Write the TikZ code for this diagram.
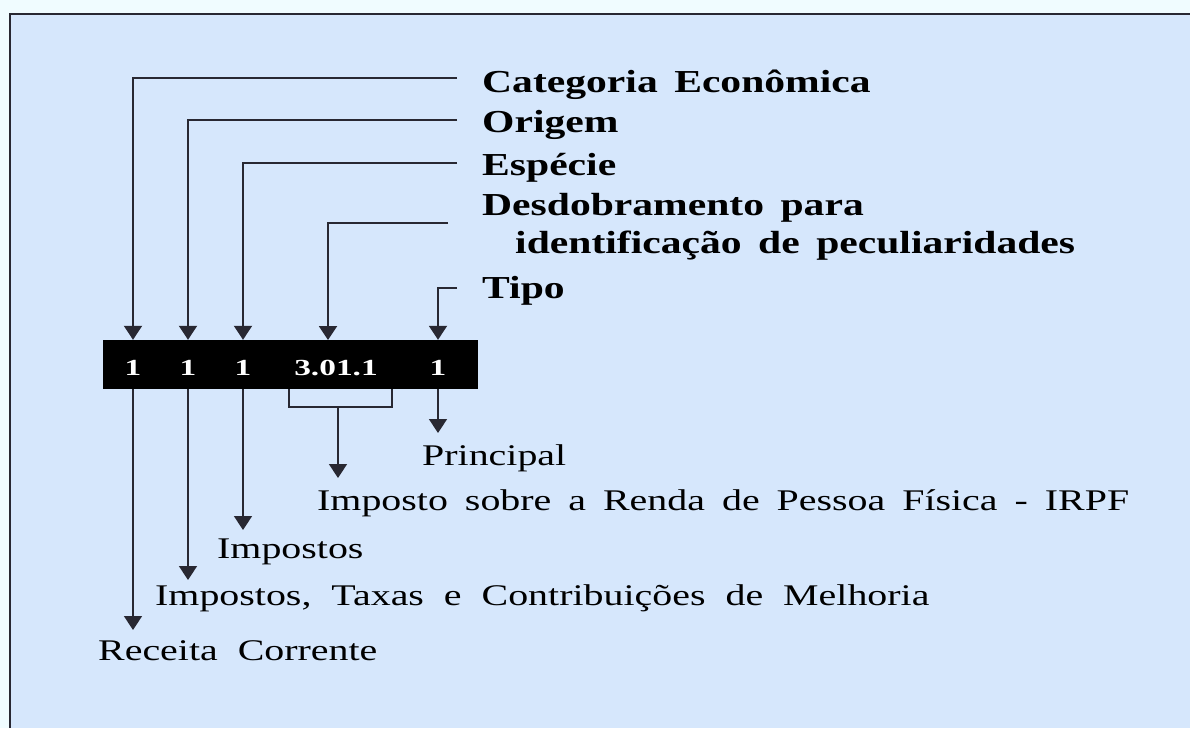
\documentclass[tikz,border=0pt]{standalone}
\usepackage{fontspec}
\setmainfont[FakeStretch=1.3]{Liberation Serif}
\newfontfamily\resfont[FakeStretch=1.33]{Liberation Serif}
\newfontfamily\digfont[FakeStretch=1.45]{Liberation Serif}
\newcommand\labspacing{\spaceskip=16.5pt plus 2pt minus 2pt\relax}
\newcommand\resspacing{\spaceskip=20pt plus 2pt minus 2pt\relax}
\newcommand\resnspacing{\spaceskip=17pt plus 2pt minus 2pt\relax}
\usetikzlibrary{arrows.meta}
\definecolor{outerbg}{RGB}{240,252,255}
\definecolor{innerbg}{RGB}{214,231,252}
\definecolor{linec}{RGB}{40,40,50}
\begin{document}
\begin{tikzpicture}[x=1pt,y=-1pt,
  lab/.style={anchor=base west,inner sep=0pt,font=\fontsize{32}{36}\selectfont\bfseries,execute at begin node=\labspacing},
  res/.style={anchor=base west,inner sep=0pt,font=\resfont\fontsize{30}{34}\selectfont,execute at begin node=\resspacing},
  resn/.style={anchor=base west,inner sep=0pt,font=\resfont\fontsize{30}{34}\selectfont,execute at begin node=\resnspacing},
  dig/.style={anchor=base,inner sep=0pt,text=white,font=\digfont\fontsize{23}{26}\selectfont\bfseries},
  arr/.style={draw=linec,line width=2pt,-{Triangle[width=18pt,length=14pt]}},
  arrb/.style={draw=linec,line width=1.6pt,-{Triangle[width=18pt,length=14pt]}},
  thin/.style={draw=linec,line width=1.2pt}]
\useasboundingbox (0,0) rectangle (1190,728);
\fill[outerbg] (0,0) rectangle (1190,728);
\fill[innerbg] (10,14) rectangle (1190,728);
\draw[line width=2pt,linec] (10,728) -- (10,14) -- (1190,14);
% code box
\node[fill=black,minimum width=375pt,minimum height=49pt,inner sep=0pt] (box) at (290.5,364.5) {};
\node[dig] (d1) at (133,375) {1};
\node[dig] (d2) at (188,375) {1};
\node[dig] (d3) at (243,375) {1};
\node[dig] (d4) at (336,375) {3.01.1};
\node[dig] (d5) at (438,375) {1};
% top labels
\node[lab] (cat) at (482,92) {Categoria Econômica};
\node[lab] (ori) at (482,132) {Origem};
\node[lab] (esp) at (482,175) {Espécie};
\node[lab] (des) at (482,215) {Desdobramento para};
\node[lab] (ide) at (515,253) {identificação de peculiaridades};
\node[lab] (tip) at (482,298) {Tipo};
\coordinate (c1) at (457,78);
\coordinate (c2) at (457,120);
\coordinate (c3) at (457,163);
\coordinate (c4) at (448,223);
\coordinate (c5) at (457,288);
\draw[arr] (c1) -| (d1 |- box.north);
\draw[arr] (c2) -| (d2 |- box.north);
\draw[arr] (c3) -| (d3 |- box.north);
\draw[arr] (c4) -| (328,340);
\draw[arr] (c5) -| (d5 |- box.north);
% bottom results
\node[res] (pri) at (422,465) {Principal};
\node[resn] (irp) at (317,510) {Imposto sobre a Renda de Pessoa Física - IRPF};
\node[res] (imp) at (217,558) {Impostos};
\node[res] (itc) at (155,605) {Impostos, Taxas e Contribuições de Melhoria};
\node[res] (rec) at (98,660) {Receita Corrente};
\coordinate (b1) at (133,630);
\coordinate (b2) at (188,580);
\coordinate (b3) at (243,530);
\coordinate (b4) at (338,478);
\coordinate (b5) at (438,433);
\draw[arrb] (d1 |- box.south) -- (b1);
\draw[arrb] (d2 |- box.south) -- (b2);
\draw[arrb] (d3 |- box.south) -- (b3);
\draw[arrb] (d5 |- box.south) -- (b5);
\draw[thin] (289,389) -- (289,407) -- (392,407) -- (392,389);
\draw[arrb] (338,407) -- (b4);
\end{tikzpicture}
\end{document}
